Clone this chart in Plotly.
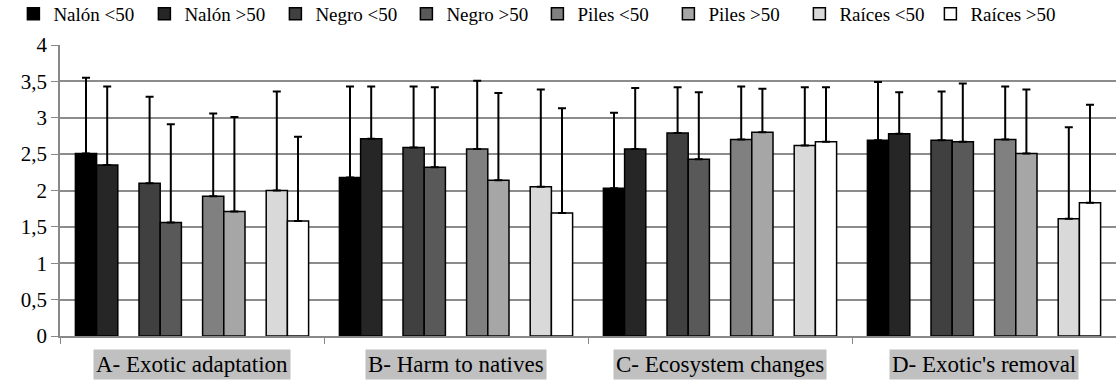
import plotly.graph_objects as go

categories = ["A- Exotic adaptation", "B- Harm to natives", "C- Ecosystem changes", "D- Exotic's removal"]
series_names = ["Nalón <50", "Nalón >50", "Negro <50", "Negro >50", "Piles <50", "Piles >50", "Raíces <50", "Raíces >50"]

nalon_lt50 = [2.51, 2.18, 2.03, 2.69]
nalon_gt50 = [2.35, 2.71, 2.57, 2.78]
negro_lt50 = [2.10, 2.59, 2.79, 2.69]
negro_gt50 = [1.56, 2.32, 2.43, 2.67]
piles_lt50 = [1.92, 2.57, 2.70, 2.70]
piles_gt50 = [1.71, 2.14, 2.80, 2.51]
raices_lt50 = [2.00, 2.05, 2.62, 1.61]
raices_gt50 = [1.58, 1.69, 2.67, 1.83]

sd_nalon_lt50 = [1.04, 1.25, 1.04, 0.80]
sd_nalon_gt50 = [1.08, 0.72, 0.84, 0.57]
sd_negro_lt50 = [1.19, 0.84, 0.63, 0.67]
sd_negro_gt50 = [1.35, 1.10, 0.92, 0.80]
sd_piles_lt50 = [1.14, 0.94, 0.73, 0.73]
sd_piles_gt50 = [1.30, 1.20, 0.60, 0.88]
sd_raices_lt50 = [1.36, 1.34, 0.80, 1.26]
sd_raices_gt50 = [1.16, 1.44, 0.75, 1.35]

y_tickvals = [0, 0.5, 1, 1.5, 2, 2.5, 3, 3.5, 4]
y_ticktext = ["0", "0,5", "1", "1,5", "2", "2,5", "3", "3,5", "4"]

means = [nalon_lt50, nalon_gt50, negro_lt50, negro_gt50, piles_lt50, piles_gt50, raices_lt50, raices_gt50]
sds = [sd_nalon_lt50, sd_nalon_gt50, sd_negro_lt50, sd_negro_gt50, sd_piles_lt50, sd_piles_gt50, sd_raices_lt50, sd_raices_gt50]
colors = ["#000000", "#262626", "#404040", "#595959", "#808080", "#a6a6a6", "#d9d9d9", "#ffffff"]
slots = [0, 1, 3, 4, 6, 7, 9, 10]
slot_w = 0.0803

FONT = "Liberation Serif, Times New Roman, serif"

fig = go.Figure()
for name, m, s, c, sl in zip(series_names, means, sds, colors, slots):
    fig.add_trace(go.Bar(
        x=categories, y=m, name=name,
        marker=dict(color=c, line=dict(color="#000000", width=1.5)),
        width=slot_w, offset=(sl - 5.5) * slot_w,
        error_y=dict(type="data", array=s, arrayminus=[0] * len(s), symmetric=False,
                     color="#000000", thickness=2, width=4),
    ))

for cat in categories:
    fig.add_annotation(x=cat, xref="x", y=0, yref="paper", yanchor="top", yshift=-13,
                       text=cat, showarrow=False, bgcolor="#c0c0c0", borderpad=2,
                       font=dict(family=FONT, size=23, color="#000000"))

fig.update_layout(
    width=1116, height=381,
    margin=dict(l=60, r=0, t=45, b=45, autoexpand=False),
    paper_bgcolor="#ffffff", plot_bgcolor="#ffffff",
    barmode="overlay",
    showlegend=True,
    legend=dict(orientation="h", x=0.012, xanchor="left", xref="container",
                y=1.1065, yanchor="middle", yref="paper",
                font=dict(family=FONT, size=19, color="#000000"),
                itemwidth=30, entrywidth=86, entrywidthmode="pixels",
                tracegroupgap=0, traceorder="normal",
                bgcolor="rgba(0,0,0,0)"),
    font=dict(family=FONT, color="#000000"),
)
fig.update_xaxes(showticklabels=False, tickson="boundaries", ticks="outside", ticklen=6,
                 tickcolor="#888888", showline=True, linecolor="#888888", linewidth=1.5,
                 showgrid=False)
fig.update_yaxes(range=[0, 4], tickvals=y_tickvals, ticktext=y_ticktext, ticks="outside",
                 ticklen=7, tickcolor="#888888", showline=True, linecolor="#888888", linewidth=1.5,
                 showgrid=True, gridcolor="#8c8c8c", gridwidth=1.5, zeroline=False,
                 tickfont=dict(family=FONT, size=21, color="#000000"))

fig.write_html("out.html", config={"displayModeBar": False},
               post_script="document.body.style.margin='0';document.body.style.padding='0';")
